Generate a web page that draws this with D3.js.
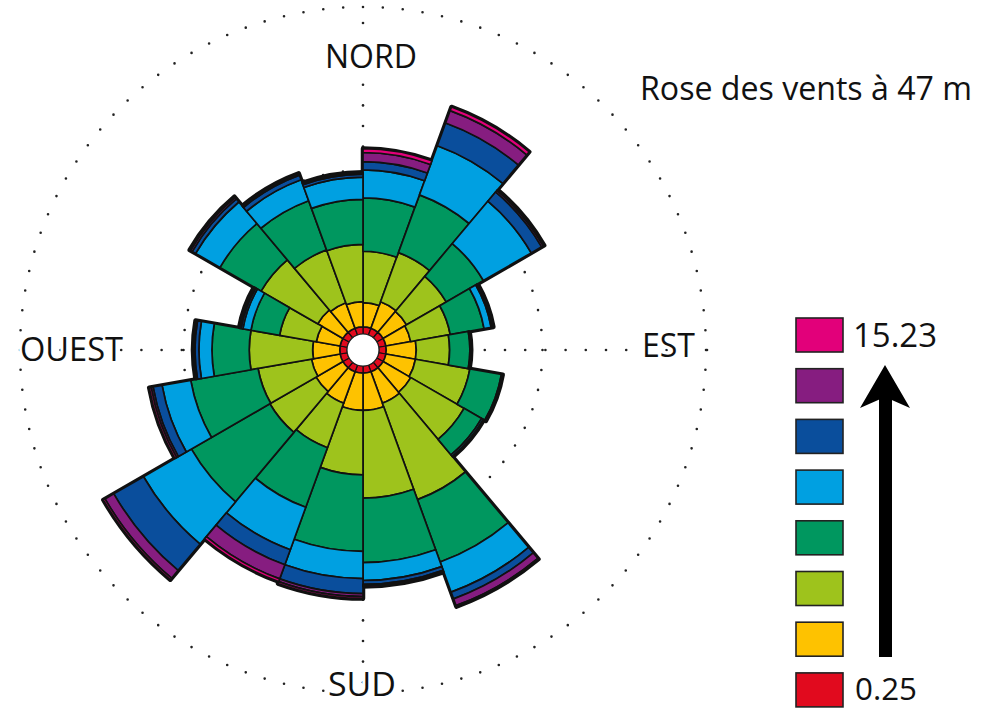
<!DOCTYPE html>
<html>
<head>
<meta charset="utf-8">
<script src="https://cdn.jsdelivr.net/npm/d3@7"></script>
<style>
  html, body { margin: 0; padding: 0; background: #fff; }
  svg { display: block; }
  text { font-family: "Open Sans", "Noto Sans", sans-serif; fill: #111; }
</style>
</head>
<body>
<svg id="chart" width="983" height="708"></svg>
<script>
// ---- DATA ----
// sector centre directions (degrees, clockwise from north), 20° wide sectors
const directions = [10, 30, 50, 70, 90, 110, 130, 150, 170, 190, 210, 230, 250, 270, 290, 310, 330, 350];
const sectorWidth = 20;
// frequency (%) per wind speed class, one value per direction
const classRed     = [0.22, 0.22, 0.22, 0.22, 0.22, 0.22, 0.22, 0.22, 0.22, 0.22, 0.22, 0.22, 0.22, 0.22, 0.22, 0.22, 0.22, 0.22];
const classYellow  = [0.74, 0.86, 0.83, 0.77, 0.92, 0.92, 0.98, 1.02, 1.14, 1.14, 1.02, 0.95, 0.89, 0.83, 0.74, 0.89, 0.83, 0.77];
const classLime    = [1.57, 1.60, 1.40, 1.23, 1.02, 1.69, 1.88, 3.14, 2.68, 1.97, 1.45, 1.63, 1.66, 1.94, 1.14, 2.00, 1.72, 1.75];
const classGreen   = [1.63, 1.88, 1.31, 1.05, 0.62, 0.98, 0.62, 2.03, 1.97, 2.34, 1.94, 2.77, 2.09, 1.14, 0.89, 1.45, 1.60, 1.38];
const classLBlue   = [0.86, 1.60, 1.69, 0.22, 0.02, 0.02, 0.06, 0.98, 0.55, 0.83, 1.38, 1.69, 0.89, 0.40, 0.25, 0.86, 0.68, 0.68];
const classDBlue   = [0.25, 0.74, 0.37, 0.03, 0.02, 0.02, 0.02, 0.22, 0.12, 0.46, 0.49, 1.05, 0.28, 0.12, 0.06, 0.12, 0.15, 0.09];
const classPurple  = [0.28, 0.40, 0.06, 0.02, 0.00, 0.00, 0.00, 0.22, 0.03, 0.09, 0.46, 0.31, 0.06, 0.03, 0.03, 0.06, 0.03, 0.03];
const classMagenta = [0.12, 0.12, 0.03, 0.02, 0.00, 0.00, 0.00, 0.03, 0.03, 0.06, 0.09, 0.06, 0.06, 0.03, 0.03, 0.03, 0.03, 0.03];

const classKeys   = ["red", "yellow", "lime", "green", "lblue", "dblue", "purple", "magenta"];
const classColors = ["#e10a1e", "#fec200", "#9ec31c", "#00975f", "#00a0e1", "#0a4e9c", "#861d80", "#e2007a"];
const legendLabels = ["0.25", "15.23"];   // lowest and highest speed (m/s)
const gridValues = [5, 10];               // dotted circles (%)
const axisLabels = ["NORD", "EST", "SUD", "OUEST"];
const title = "Rose des vents à 47 m";

// ---- LAYOUT ----
const svg = d3.select("#chart");
const cx = 363, cy = 350;
const r = d3.scaleLinear().domain([0, 10]).range([16, 343]);
const color = d3.scaleOrdinal().domain(classKeys).range(classColors);

const series = [classRed, classYellow, classLime, classGreen, classLBlue, classDBlue, classPurple, classMagenta];
const rows = directions.map((d, i) => {
  const o = { dir: d };
  classKeys.forEach((k, j) => o[k] = series[j][i]);
  return o;
});
const stacked = d3.stack().keys(classKeys)(rows);

const g = svg.append("g").attr("transform", `translate(${cx},${cy})`);

// dotted grid circles
gridValues.forEach(v => {
  const rad = r(v);
  const n = Math.round(2 * Math.PI * rad / 20);
  g.append("circle").attr("r", rad).attr("fill", "none")
    .attr("stroke", "#222").attr("stroke-width", 2.6)
    .attr("stroke-linecap", "round")
    .attr("pathLength", n * 10).attr("stroke-dasharray", "0 10");
});

// dotted axes
const axisDots = [];
for (let y = 23 - cy; y <= 690 - cy; y += 20.6) axisDots.push([0, y]);
for (let x = 707 - cx; x >= 28 - cx; x -= 20.2) axisDots.push([x, 0]);
g.selectAll("circle.axdot").data(axisDots).join("circle")
  .attr("class", "axdot").attr("cx", d => d[0]).attr("cy", d => d[1])
  .attr("r", 1.3).attr("fill", "#222");

const rad = d => d * Math.PI / 180;
const arc = d3.arc();

// thick outer outline of each sector
const totals = rows.map(o => d3.sum(classKeys, k => o[k]));
g.selectAll("path.outline").data(rows).join("path")
  .attr("class", "outline")
  .attr("d", (d, i) => arc({
    innerRadius: r(0), outerRadius: r(totals[i]),
    startAngle: rad(d.dir - sectorWidth / 2), endAngle: rad(d.dir + sectorWidth / 2)
  }))
  .attr("fill", "#111").attr("stroke", "#111").attr("stroke-width", 4.5)
  .attr("stroke-linejoin", "round");

// bands
stacked.forEach((layer, j) => {
  g.selectAll(null).data(layer.filter(d => d[1] - d[0] > 0)).join("path")
    .attr("d", d => arc({
      innerRadius: r(d[0]), outerRadius: r(d[1]),
      startAngle: rad(d.data.dir - sectorWidth / 2), endAngle: rad(d.data.dir + sectorWidth / 2)
    }))
    .attr("fill", color(layer.key))
    .attr("stroke", "#111").attr("stroke-width", j === 0 ? 1.2 : 1.7)
    .attr("stroke-linejoin", "round");
});

// central hole
g.append("circle").attr("r", r(0)).attr("fill", "#fff").attr("stroke", "#222").attr("stroke-width", 1.2);

// labels
function label(txt, x, y, len, size) {
  svg.append("text").attr("x", x).attr("y", y).text(txt)
    .attr("font-size", size || 33)
    .attr("textLength", len).attr("lengthAdjust", "spacingAndGlyphs")
    .attr("stroke", "#fff").attr("stroke-width", 6).attr("paint-order", "stroke")
    .attr("stroke-linejoin", "round");
}
label(axisLabels[0], 325, 68, 92);
label(axisLabels[1], 642, 357, 53);
label(axisLabels[2], 328, 696, 68);
label(axisLabels[3], 20, 361, 103);
label(title, 640, 100, 332);

// legend
const legend = svg.append("g");
const boxTop = 318, boxStep = 50.7;
classKeys.slice().reverse().forEach((k, i) => {
  legend.append("rect").attr("x", 796).attr("y", boxTop + i * boxStep)
    .attr("width", 47).attr("height", 34)
    .attr("fill", color(k)).attr("stroke", "#222").attr("stroke-width", 1.6);
});
label(legendLabels[1], 853, 347, 84, 32);
label(legendLabels[0], 855, 700, 62, 31);

// arrow
legend.append("rect").attr("x", 879).attr("y", 395).attr("width", 13).attr("height", 262).attr("fill", "#000");
legend.append("path").attr("d", "M885,365 L910,408 L885,397 L860,408 Z").attr("fill", "#000");
</script>
</body>
</html>
